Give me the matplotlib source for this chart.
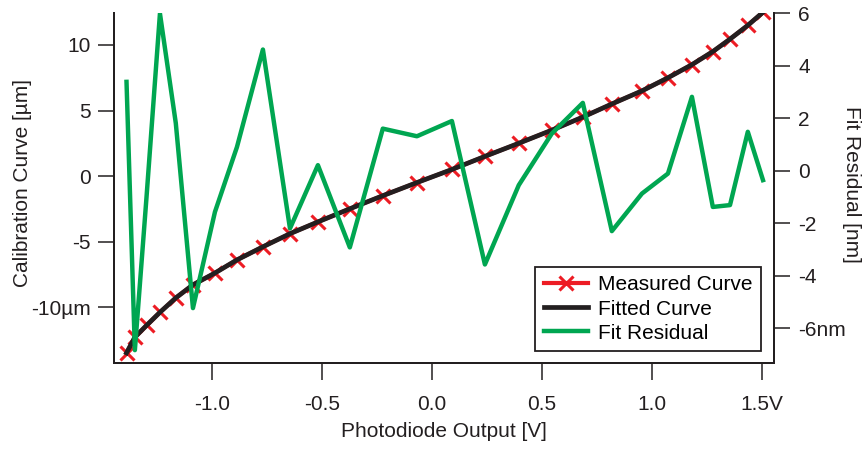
"""
    Title: Calibration curve of the photodiode with the fit residual on a second axis.
"""

import matplotlib
matplotlib.use('Agg')
import matplotlib.pyplot as plt

# photodiode output [V] at every measured point
voltage = [-1.388, -1.350, -1.297, -1.236, -1.164, -1.086, -0.986, -0.886, -0.768,
           -0.645, -0.518, -0.373, -0.223, -0.068, 0.091, 0.241, 0.395, 0.545,
           0.686, 0.818, 0.955, 1.073, 1.182, 1.277, 1.355, 1.436, 1.505]

# measured position [um]
measured = [-13.5, -12.3, -11.4, -10.4, -9.3, -8.3, -7.4, -6.4, -5.4,
            -4.4, -3.5, -2.5, -1.5, -0.5, 0.5, 1.5, 2.5, 3.5,
            4.5, 5.5, 6.5, 7.5, 8.5, 9.5, 10.45, 11.5, 12.5]

# fitted curve [um]
fitted = [-13.5, -12.3, -11.4, -10.4, -9.3, -8.3, -7.4, -6.4, -5.4,
          -4.4, -3.5, -2.5, -1.5, -0.5, 0.5, 1.5, 2.5, 3.5,
          4.5, 5.5, 6.5, 7.5, 8.5, 9.5, 10.45, 11.5, 12.5]

# fit residual [nm]
residual = [3.38, -6.83, -1.0, 5.98, 1.81, -5.23, -1.57, 0.90, 4.61,
            -2.20, 0.21, -2.92, 1.60, 1.31, 1.89, -3.57, -0.55, 1.41,
            2.58, -2.30, -0.87, -0.11, 2.81, -1.38, -1.31, 1.48, -0.36]

x_ticks = [-1.0, -0.5, 0.0, 0.5, 1.0, 1.5]
x_labels = ['-1.0', '-0.5', '0.0', '0.5', '1.0', '1.5V']
left_ticks = [-10, -5, 0, 5, 10]
left_labels = ['-10µm', '-5', '0', '5', '10']
right_ticks = [-6, -4, -2, 0, 2, 4, 6]
right_labels = ['-6nm', '-4', '-2', '0', '2', '4', '6']

RED = '#ed1c24'
BLACK = '#231f20'
GREEN = '#00a651'


def style_axis(ax):
    """Igor like axes: no top line, ticks pointing out."""
    ax.spines['top'].set_visible(False)
    for side in ('left', 'right', 'bottom'):
        ax.spines[side].set_linewidth(1.4)
        ax.spines[side].set_color(BLACK)


def create_plot():
    plt.rcParams['font.family'] = ['Liberation Sans', 'DejaVu Sans']
    plt.rcParams['font.size'] = 15

    fig = plt.figure(figsize=(8.68, 4.49), dpi=100)
    ax = fig.add_axes([0.1313, 0.1915, 0.7604, 0.7795])
    ax2 = ax.twinx()

    meas, = ax.plot(voltage, measured, color=RED, lw=3, marker='x', ms=10, mew=2.2,
                    label='Measured Curve')
    fit, = ax.plot(voltage, fitted, color=BLACK, lw=3.4, label='Fitted Curve')
    res, = ax2.plot(voltage, residual, color=GREEN, lw=3.2, label='Fit Residual')

    ax.set_xlim(-1.445, 1.555)
    ax.set_ylim(-14.27, 12.44)
    ax2.set_ylim(-7.32, 5.99)

    ax.set_xticks(x_ticks)
    ax.set_xticklabels(x_labels)
    ax.set_yticks(left_ticks)
    ax.set_yticklabels(left_labels)
    ax2.set_yticks(right_ticks)
    ax2.set_yticklabels(right_labels)

    style_axis(ax)
    style_axis(ax2)
    ax.tick_params(axis='y', direction='out', length=11.5, width=1.1, pad=5, colors=BLACK)
    ax.tick_params(axis='x', direction='out', length=12, width=1.1, pad=11, colors=BLACK)
    ax2.tick_params(axis='y', direction='out', length=11.5, width=1.1, pad=6, colors=BLACK)

    ax.set_xlabel('Photodiode Output [V]', color=BLACK)
    ax.set_ylabel('Calibration Curve [µm]', color=BLACK)
    ax2.set_ylabel('Fit Residual [nm]', color=BLACK, rotation=270, va='center')
    ax.xaxis.set_label_coords(0.50, -0.168)
    ax.yaxis.set_label_coords(-0.124, 0.515)
    ax2.yaxis.set_label_coords(1.118, 0.51)

    leg = ax2.legend(handles=[meas, fit, res], loc='lower right',
                     bbox_to_anchor=(0.980, 0.034), borderaxespad=0,
                     fancybox=False, framealpha=1, edgecolor=BLACK,
                     handlelength=2.1, handletextpad=0.5, labelspacing=0.25,
                     borderpad=0.4)
    leg.get_frame().set_linewidth(1.3)

    fig.savefig('out.png', dpi=100)


def main():
    create_plot()


if __name__ == "__main__":
    main()
